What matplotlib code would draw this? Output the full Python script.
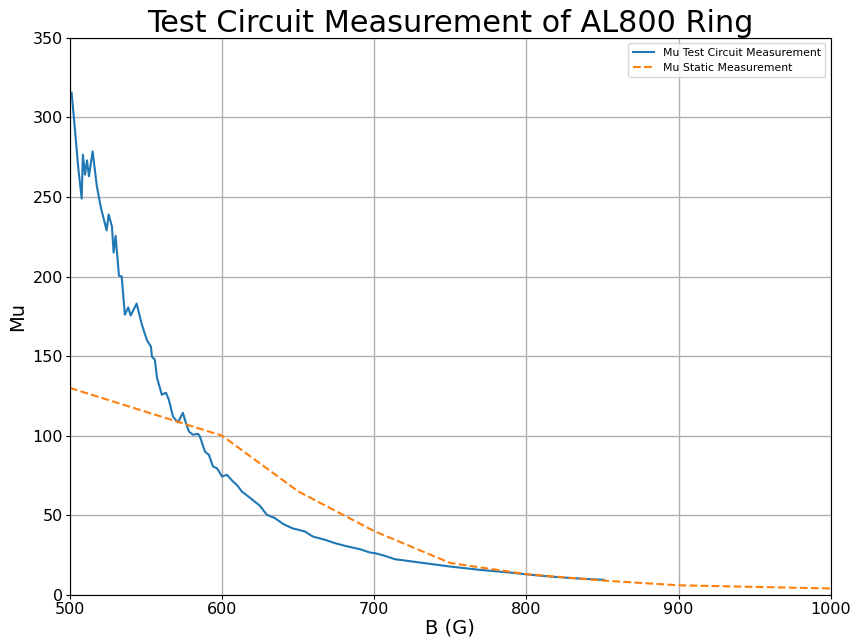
import numpy as np
import matplotlib.pyplot as plt

# test circuit sweep (B in gauss, relative permeability)
b_circuit = [501.1, 503.5, 505.5, 507.7, 508.5, 509.9, 511.2, 512.5, 514.9,
             517.7, 520.4, 524.1, 525.4, 527.6, 528.7, 530.0, 532.2, 534.0,
             536.1, 538.3, 539.9, 543.8, 547.3, 550.6, 553.2, 553.9, 555.8,
             557.2, 560.4, 563.1, 565.0, 567.7, 571.0, 574.2, 576.2, 578.2,
             580.8, 584.1, 585.4, 588.7, 591.3, 594.0, 596.6, 599.9, 603.2,
             607.1, 609.7, 613.0, 618.3, 624.8, 629.4, 634.7, 640.0, 645.9,
             654.4, 659.7, 667.5, 674.1, 680.7, 690.5, 697.1, 700.4, 707.0,
             713.5, 730.0, 749.7, 769.4, 789.1, 803.0, 815.4, 830.0, 851.0]
mu_circuit = [315.5, 290.0, 268.0, 249.0, 276.6, 264.0, 273.0, 263.0, 278.6,
              256.6, 243.0, 229.0, 239.0, 231.5, 215.0, 225.6, 200.5, 200.0,
              176.0, 180.6, 175.5, 183.0, 169.7, 160.0, 156.0, 149.6, 147.7,
              136.4, 125.7, 127.0, 122.6, 112.0, 108.3, 114.4, 108.0, 102.6,
              100.6, 101.2, 99.5, 90.0, 88.0, 80.6, 79.6, 74.4, 75.4,
              71.2, 69.1, 64.9, 61.0, 56.0, 50.3, 48.2, 44.6, 41.9,
              39.8, 36.6, 34.6, 32.5, 30.8, 28.7, 26.6, 26.2, 24.5,
              22.4, 20.3, 17.8, 15.7, 14.0, 12.6, 11.5, 10.5, 9.4]

# static measurement points
b_static = [500, 600, 650, 700, 750, 800, 850, 900, 950, 1000]
mu_static = [130, 100, 65, 40, 20, 13, 9, 6, 5, 4]

fig = plt.figure(figsize=(8.53, 6.41), dpi=100)
ax = fig.add_axes([0.082, 0.072, 0.892, 0.869])

ax.plot(b_circuit, mu_circuit, color='#1f77b4', linewidth=1.5,
        label='Mu Test Circuit Measurement')
ax.plot(b_static, mu_static, color='#ff7f0e', linestyle='--', linewidth=1.5,
        label='Mu Static Measurement')

ax.set_xlim(500, 1000)
ax.set_ylim(0, 350)
ax.set_xticks(np.arange(500, 1001, 100))
ax.set_yticks(np.arange(0, 351, 50))
ax.tick_params(labelsize=11.5, length=3, pad=2)
ax.grid(True, color='#b0b0b0', linewidth=1)
ax.set_axisbelow(True)

ax.set_title('Test Circuit Measurement of AL800 Ring', fontsize=21.8, pad=2)
ax.set_xlabel('B (G)', fontsize=14, labelpad=1)
ax.set_ylabel('Mu', fontsize=14, labelpad=4)
ax.legend(loc='upper right', fontsize=7.8)

plt.savefig('out.png')
